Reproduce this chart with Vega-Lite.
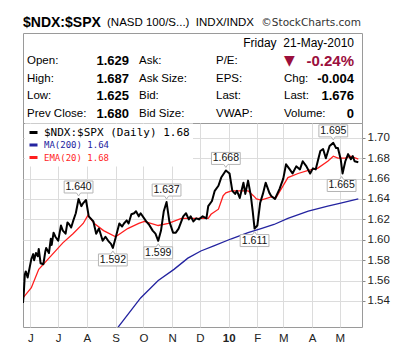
{
  "$schema": "https://vega.github.io/schema/vega-lite/v6.json",
  "background": "white",
  "padding": {"left": 22, "top": 15, "right": 5, "bottom": 5},
  "spacing": 0,
  "bounds": "flush",
  "config": {
    "font": "Liberation Sans",
    "view": {"stroke": "#9a9a9a", "strokeWidth": 1}
  },
  "datasets": {
    "table": [
      {"row": -1, "col": 0, "text": "$NDX:$SPX", "kind": "head"},
      {"row": -1, "col": 2, "text": "(NASD 100/S...)\u00a0 INDX/INDX", "kind": "sub"},
      {"row": -1, "col": 8, "text": "©StockCharts.com", "kind": "site"},
      {"row": 0, "col": 7, "text": "Friday\u00a0 21-May-2010", "kind": "date"},
      {"row": 1, "col": 1, "text": "Open:", "kind": "label"},
      {"row": 2, "col": 1, "text": "High:", "kind": "label"},
      {"row": 3, "col": 1, "text": "Low:", "kind": "label"},
      {"row": 4, "col": 1, "text": "Prev Close:", "kind": "label"},
      {"row": 1, "col": 3, "text": "1.629", "kind": "value"},
      {"row": 2, "col": 3, "text": "1.687", "kind": "value"},
      {"row": 3, "col": 3, "text": "1.625", "kind": "value"},
      {"row": 4, "col": 3, "text": "1.680", "kind": "value"},
      {"row": 1, "col": 4, "text": "Ask:", "kind": "label"},
      {"row": 2, "col": 4, "text": "Ask Size:", "kind": "label"},
      {"row": 3, "col": 4, "text": "Bid:", "kind": "label"},
      {"row": 4, "col": 4, "text": "Bid Size:", "kind": "label"},
      {"row": 1, "col": 5, "text": "P/E:", "kind": "label"},
      {"row": 2, "col": 5, "text": "EPS:", "kind": "label"},
      {"row": 3, "col": 5, "text": "Last:", "kind": "label"},
      {"row": 4, "col": 5, "text": "VWAP:", "kind": "label"},
      {"row": 1, "col": 6, "text": "▼", "kind": "arrow"},
      {"row": 1, "col": 7, "text": "-0.24%", "kind": "change"},
      {"row": 2, "col": 6, "text": "Chg:", "kind": "label"},
      {"row": 3, "col": 6, "text": "Last:", "kind": "label"},
      {"row": 4, "col": 6, "text": "Volume:", "kind": "label"},
      {"row": 2, "col": 7, "text": "-0.004", "kind": "value"},
      {"row": 3, "col": 7, "text": "1.676", "kind": "value"},
      {"row": 4, "col": 7, "text": "0", "kind": "value"}
    ],
    "price": [
      {"date": "2009-05-24", "value": 1.538}, {"date": "2009-05-25", "value": 1.550},
      {"date": "2009-05-26", "value": 1.566}, {"date": "2009-05-27", "value": 1.569},
      {"date": "2009-05-29", "value": 1.563}, {"date": "2009-05-31", "value": 1.572},
      {"date": "2009-06-02", "value": 1.581}, {"date": "2009-06-04", "value": 1.586},
      {"date": "2009-06-05", "value": 1.580}, {"date": "2009-06-07", "value": 1.587},
      {"date": "2009-06-09", "value": 1.584}, {"date": "2009-06-10", "value": 1.591},
      {"date": "2009-06-12", "value": 1.577}, {"date": "2009-06-15", "value": 1.576},
      {"date": "2009-06-17", "value": 1.588}, {"date": "2009-06-18", "value": 1.592},
      {"date": "2009-06-21", "value": 1.587}, {"date": "2009-06-23", "value": 1.601},
      {"date": "2009-06-24", "value": 1.595}, {"date": "2009-06-26", "value": 1.607},
      {"date": "2009-06-28", "value": 1.603}, {"date": "2009-07-01", "value": 1.599},
      {"date": "2009-07-04", "value": 1.614}, {"date": "2009-07-06", "value": 1.609},
      {"date": "2009-07-09", "value": 1.606}, {"date": "2009-07-11", "value": 1.617},
      {"date": "2009-07-13", "value": 1.615}, {"date": "2009-07-15", "value": 1.612},
      {"date": "2009-07-17", "value": 1.618}, {"date": "2009-07-20", "value": 1.626},
      {"date": "2009-07-23", "value": 1.640}, {"date": "2009-07-26", "value": 1.633},
      {"date": "2009-07-28", "value": 1.636}, {"date": "2009-07-31", "value": 1.639},
      {"date": "2009-08-03", "value": 1.623}, {"date": "2009-08-08", "value": 1.618},
      {"date": "2009-08-11", "value": 1.606}, {"date": "2009-08-14", "value": 1.611},
      {"date": "2009-08-18", "value": 1.599}, {"date": "2009-08-21", "value": 1.603},
      {"date": "2009-08-24", "value": 1.599}, {"date": "2009-08-27", "value": 1.596},
      {"date": "2009-08-29", "value": 1.592}, {"date": "2009-09-01", "value": 1.602},
      {"date": "2009-09-05", "value": 1.616}, {"date": "2009-09-08", "value": 1.613},
      {"date": "2009-09-10", "value": 1.616}, {"date": "2009-09-13", "value": 1.619},
      {"date": "2009-09-15", "value": 1.616}, {"date": "2009-09-18", "value": 1.625},
      {"date": "2009-09-21", "value": 1.626}, {"date": "2009-09-23", "value": 1.628},
      {"date": "2009-09-26", "value": 1.623}, {"date": "2009-09-28", "value": 1.626},
      {"date": "2009-10-04", "value": 1.618}, {"date": "2009-10-07", "value": 1.615},
      {"date": "2009-10-11", "value": 1.609}, {"date": "2009-10-14", "value": 1.606},
      {"date": "2009-10-17", "value": 1.599}, {"date": "2009-10-20", "value": 1.609},
      {"date": "2009-10-23", "value": 1.628}, {"date": "2009-10-26", "value": 1.637},
      {"date": "2009-10-29", "value": 1.618}, {"date": "2009-11-02", "value": 1.607},
      {"date": "2009-11-05", "value": 1.607}, {"date": "2009-11-08", "value": 1.611},
      {"date": "2009-11-13", "value": 1.623}, {"date": "2009-11-16", "value": 1.626},
      {"date": "2009-11-19", "value": 1.620}, {"date": "2009-11-21", "value": 1.623},
      {"date": "2009-11-24", "value": 1.618}, {"date": "2009-11-27", "value": 1.621},
      {"date": "2009-11-30", "value": 1.620}, {"date": "2009-12-04", "value": 1.623},
      {"date": "2009-12-08", "value": 1.621}, {"date": "2009-12-10", "value": 1.633},
      {"date": "2009-12-14", "value": 1.638}, {"date": "2009-12-17", "value": 1.648},
      {"date": "2009-12-21", "value": 1.653}, {"date": "2009-12-24", "value": 1.661},
      {"date": "2009-12-29", "value": 1.668}, {"date": "2010-01-02", "value": 1.665},
      {"date": "2010-01-05", "value": 1.648}, {"date": "2010-01-08", "value": 1.645},
      {"date": "2010-01-10", "value": 1.648}, {"date": "2010-01-13", "value": 1.641},
      {"date": "2010-01-17", "value": 1.656}, {"date": "2010-01-19", "value": 1.645},
      {"date": "2010-01-22", "value": 1.658}, {"date": "2010-01-25", "value": 1.643},
      {"date": "2010-01-27", "value": 1.628}, {"date": "2010-01-29", "value": 1.611},
      {"date": "2010-02-01", "value": 1.614}, {"date": "2010-02-04", "value": 1.636},
      {"date": "2010-02-07", "value": 1.645}, {"date": "2010-02-10", "value": 1.656},
      {"date": "2010-02-14", "value": 1.646}, {"date": "2010-02-16", "value": 1.643},
      {"date": "2010-02-20", "value": 1.640}, {"date": "2010-02-25", "value": 1.650},
      {"date": "2010-03-01", "value": 1.660}, {"date": "2010-03-04", "value": 1.674},
      {"date": "2010-03-08", "value": 1.669}, {"date": "2010-03-11", "value": 1.665},
      {"date": "2010-03-15", "value": 1.672}, {"date": "2010-03-19", "value": 1.669},
      {"date": "2010-03-22", "value": 1.677}, {"date": "2010-03-26", "value": 1.672},
      {"date": "2010-03-30", "value": 1.665}, {"date": "2010-04-02", "value": 1.670},
      {"date": "2010-04-05", "value": 1.669}, {"date": "2010-04-10", "value": 1.687},
      {"date": "2010-04-13", "value": 1.689}, {"date": "2010-04-16", "value": 1.680},
      {"date": "2010-04-20", "value": 1.692}, {"date": "2010-04-24", "value": 1.695},
      {"date": "2010-04-27", "value": 1.690}, {"date": "2010-04-29", "value": 1.690},
      {"date": "2010-05-02", "value": 1.679}, {"date": "2010-05-04", "value": 1.665},
      {"date": "2010-05-07", "value": 1.677}, {"date": "2010-05-10", "value": 1.684},
      {"date": "2010-05-13", "value": 1.679}, {"date": "2010-05-15", "value": 1.682},
      {"date": "2010-05-17", "value": 1.677}, {"date": "2010-05-21", "value": 1.676}
    ],
    "ema": [
      {"date": "2009-05-24", "value": 1.543}, {"date": "2009-06-02", "value": 1.553},
      {"date": "2009-06-10", "value": 1.571}, {"date": "2009-06-23", "value": 1.584},
      {"date": "2009-07-06", "value": 1.597}, {"date": "2009-07-17", "value": 1.606},
      {"date": "2009-07-28", "value": 1.616}, {"date": "2009-08-02", "value": 1.624},
      {"date": "2009-08-09", "value": 1.616}, {"date": "2009-08-19", "value": 1.609},
      {"date": "2009-09-01", "value": 1.603}, {"date": "2009-09-14", "value": 1.611},
      {"date": "2009-09-26", "value": 1.616}, {"date": "2009-10-02", "value": 1.618},
      {"date": "2009-10-17", "value": 1.614}, {"date": "2009-10-28", "value": 1.616},
      {"date": "2009-11-11", "value": 1.621}, {"date": "2009-11-29", "value": 1.621},
      {"date": "2009-12-10", "value": 1.621}, {"date": "2009-12-13", "value": 1.625},
      {"date": "2009-12-21", "value": 1.630}, {"date": "2009-12-26", "value": 1.643},
      {"date": "2009-12-29", "value": 1.646}, {"date": "2010-01-04", "value": 1.648},
      {"date": "2010-01-11", "value": 1.648}, {"date": "2010-01-22", "value": 1.648},
      {"date": "2010-01-28", "value": 1.643}, {"date": "2010-01-31", "value": 1.640},
      {"date": "2010-02-05", "value": 1.639}, {"date": "2010-02-16", "value": 1.642},
      {"date": "2010-02-21", "value": 1.641}, {"date": "2010-03-06", "value": 1.661},
      {"date": "2010-03-17", "value": 1.665}, {"date": "2010-03-28", "value": 1.668},
      {"date": "2010-04-07", "value": 1.670}, {"date": "2010-04-18", "value": 1.677},
      {"date": "2010-04-24", "value": 1.682}, {"date": "2010-04-29", "value": 1.680},
      {"date": "2010-05-07", "value": 1.680}, {"date": "2010-05-13", "value": 1.682},
      {"date": "2010-05-21", "value": 1.679}
    ],
    "ma": [
      {"date": "2009-08-31", "value": 1.510}, {"date": "2009-09-28", "value": 1.543},
      {"date": "2009-10-17", "value": 1.560}, {"date": "2009-11-03", "value": 1.571},
      {"date": "2009-11-18", "value": 1.582}, {"date": "2009-12-02", "value": 1.589},
      {"date": "2009-12-16", "value": 1.594}, {"date": "2010-01-04", "value": 1.601},
      {"date": "2010-01-22", "value": 1.607}, {"date": "2010-02-05", "value": 1.611},
      {"date": "2010-02-19", "value": 1.615}, {"date": "2010-03-06", "value": 1.621},
      {"date": "2010-03-28", "value": 1.628}, {"date": "2010-04-18", "value": 1.633},
      {"date": "2010-05-02", "value": 1.636}, {"date": "2010-05-21", "value": 1.640}
    ],
    "notes": [
      {"date": "2009-07-23", "value": 1.640, "label": "1.640", "side": "high"},
      {"date": "2009-08-29", "value": 1.592, "label": "1.592", "side": "low"},
      {"date": "2009-10-26", "value": 1.637, "label": "1.637", "side": "high"},
      {"date": "2009-10-17", "value": 1.599, "label": "1.599", "side": "low"},
      {"date": "2009-12-29", "value": 1.668, "label": "1.668", "side": "high"},
      {"date": "2010-01-29", "value": 1.611, "label": "1.611", "side": "low"},
      {"date": "2010-04-24", "value": 1.695, "label": "1.695", "side": "high"},
      {"date": "2010-05-03", "value": 1.665, "label": "1.665", "side": "low"}
    ]
  },
  "vconcat": [
    {
      "width": 339,
      "height": 90,
      "data": {"name": "table"},
      "encoding": {
        "x": {"field": "col", "type": "quantitative", "axis": null,
              "scale": {"domain": [0, 1, 2, 3, 4, 5, 6, 7, 8], "range": [0, 4, 84, 106, 116, 193, 261, 331, 338]}},
        "y": {"field": "row", "type": "quantitative", "axis": null,
              "scale": {"domain": [-1, 0, 4], "range": [-10, 10, 81]}},
        "text": {"field": "text"}
      },
      "layer": [
        {"transform": [{"filter": "datum.kind === 'head'"}],
         "mark": {"type": "text", "align": "left", "baseline": "middle", "fontSize": 14, "fontWeight": "bold", "color": "#000"}},
        {"transform": [{"filter": "datum.kind === 'sub'"}],
         "mark": {"type": "text", "align": "left", "baseline": "middle", "fontSize": 11.5, "color": "#000"}},
        {"transform": [{"filter": "datum.kind === 'site'"}],
         "mark": {"type": "text", "align": "right", "baseline": "middle", "fontSize": 10.5, "font": "DejaVu Sans", "color": "#333"}},
        {"transform": [{"filter": "datum.kind === 'date'"}],
         "mark": {"type": "text", "align": "right", "baseline": "middle", "fontSize": 12, "color": "#000"}},
        {"transform": [{"filter": "datum.kind === 'label'"}],
         "mark": {"type": "text", "align": "left", "baseline": "middle", "fontSize": 11.5, "color": "#000"}},
        {"transform": [{"filter": "datum.kind === 'value'"}],
         "mark": {"type": "text", "align": "right", "baseline": "middle", "fontSize": 13, "fontWeight": "bold", "color": "#000"}},
        {"transform": [{"filter": "datum.kind === 'arrow'"}],
         "mark": {"type": "text", "align": "left", "baseline": "middle", "fontSize": 14, "font": "DejaVu Sans", "color": "#9b0f3c"}},
        {"transform": [{"filter": "datum.kind === 'change'"}],
         "mark": {"type": "text", "align": "right", "baseline": "middle", "fontSize": 15, "fontWeight": "bold", "color": "#9b0f3c"}}
      ]
    },
    {
      "width": 339,
      "height": 204,
      "encoding": {
        "x": {"field": "date", "type": "temporal",
              "scale": {"type": "utc", "domain": [{"year": 2009, "month": 5, "date": 24, "utc": true}, {"year": 2010, "month": 5, "date": 25, "utc": true}]},
              "axis": {"title": null, "grid": true, "gridColor": "#dcdcdc", "domain": false, "ticks": false,
                       "labelPadding": 5, "labelFontSize": 11.5, "labelColor": "#222", "labelFlush": false, "labelOverlap": false,
                       "tickCount": {"interval": "month", "step": 1},
                       "labelExpr": "utcmonth(datum.value) === 0 ? '10' : slice(utcFormat(datum.value, '%b'), 0, 1)",
                       "labelFontWeight": {"condition": {"test": "utcmonth(datum.value) === 0", "value": "bold"}, "value": "normal"}}},
        "y": {"field": "value", "type": "quantitative",
              "scale": {"domain": [1.5145, 1.7145], "zero": false, "nice": false},
              "axis": {"orient": "right", "title": null, "values": [1.54, 1.56, 1.58, 1.6, 1.62, 1.64, 1.66, 1.68, 1.7],
                       "format": ".2f", "grid": true, "gridColor": "#dcdcdc", "domain": false, "ticks": true, "tickSize": 3,
                       "tickColor": "#888", "labelPadding": 2, "labelFontSize": 11.5, "labelColor": "#222"}}
      },
      "layer": [
        {"data": {"name": "ma"},
         "mark": {"type": "line", "strokeWidth": 1.3, "clip": true},
         "encoding": {"color": {"datum": "MA(200) 1.64", "type": "nominal",
           "scale": {"domain": ["$NDX:$SPX (Daily) 1.68", "MA(200) 1.64", "EMA(20) 1.68"], "range": ["#000000", "#2323a0", "#ff1f1f"]},
           "legend": {"orient": "none", "legendX": 2, "legendY": 90.5, "title": null, "symbolType": "stroke", "symbolSize": 64,
                      "symbolStrokeWidth": 3, "labelFont": "DejaVu Sans Mono", "labelFontSize": 10, "labelOffset": 5,
                      "rowPadding": 0.5, "clipHeight": 12, "padding": 3, "fillColor": "white",
                      "encoding": {"labels": {"fill": {"value": {"expr": "datum.index === 0 ? '#000000' : datum.index === 1 ? '#2323a0' : '#ff1f1f'"}},
                                              "fontSize": {"value": {"expr": "datum.index === 0 ? 11 : 9"}}}}}}}},
        {"data": {"name": "ema"},
         "mark": {"type": "line", "strokeWidth": 1.3, "clip": true},
         "encoding": {"color": {"datum": "EMA(20) 1.68", "type": "nominal"}}},
        {"data": {"name": "price"},
         "mark": {"type": "line", "strokeWidth": 2, "strokeJoin": "round", "clip": true},
         "encoding": {"color": {"datum": "$NDX:$SPX (Daily) 1.68", "type": "nominal"}}},
        {"data": {"name": "notes"},
         "transform": [{"filter": "datum.side === 'high'"}],
         "mark": {"type": "point", "shape": "M-1.2,-0.5H1.2V0.5H0.17L0,0.75L-0.17,0.5H-1.2Z", "size": 576, "filled": true,
                  "fill": "white", "stroke": "#b5b5b5", "strokeWidth": 1, "opacity": 1, "yOffset": -12}},
        {"data": {"name": "notes"},
         "transform": [{"filter": "datum.side === 'low'"}],
         "mark": {"type": "point", "shape": "M-1.2,-0.5H-0.17L0,-0.75L0.17,-0.5H1.2V0.5H-1.2Z", "size": 576, "filled": true,
                  "fill": "white", "stroke": "#b5b5b5", "strokeWidth": 1, "opacity": 1, "yOffset": 12}},
        {"data": {"name": "notes"},
         "transform": [{"filter": "datum.side === 'high'"}],
         "mark": {"type": "text", "fontSize": 10.5, "color": "#111", "baseline": "middle", "dy": -12},
         "encoding": {"text": {"field": "label"}}},
        {"data": {"name": "notes"},
         "transform": [{"filter": "datum.side === 'low'"}],
         "mark": {"type": "text", "fontSize": 10.5, "color": "#111", "baseline": "middle", "dy": 12},
         "encoding": {"text": {"field": "label"}}}
      ]
    }
  ]
}
